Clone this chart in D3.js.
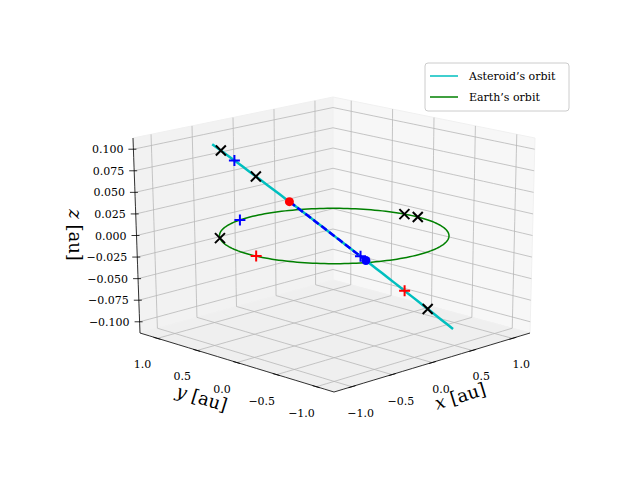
<!DOCTYPE html>
<html>
<head>
<meta charset="utf-8">
<script src="https://cdn.jsdelivr.net/npm/d3@7"></script>
<style>
  body { margin: 0; background: #fff; }
  text { font-family: "DejaVu Serif", "Liberation Serif", serif; }
</style>
</head>
<body>
<div id="chart"></div>
<script>
// axis limits and ticks
const xLim = [-1.22, 1.22], yLim = [-1.22, 1.22], zLim = [-0.113, 0.113];
const xyTicks = [-1.0, -0.5, 0.0, 0.5, 1.0];
const zTicks = [-0.1, -0.075, -0.05, -0.025, 0, 0.025, 0.05, 0.075, 0.1];

// asteroid orbit end points (straight segment through the Sun)
const asteroidStart = [-0.6, 0.88, 0.1];
const asteroidEnd = [0.6, -0.88, -0.1];
// positions along the asteroid track (fraction of start point)
const asteroidCrosses = [0.93, 0.645, -0.785];
const asteroidBluePlus = [0.82, -0.22];
const asteroidRedPlus = [-0.59];
const redDotT = 0.37, blueDotT = -0.265;
// positions on Earth's orbit (angle in degrees)
const earthCrosses = [140, 7, -2];
const earthBluePlus = [100];
const earthRedPlus = [182];

const width = 640, height = 480;
const svg = d3.select("#chart").append("svg")
    .attr("width", width).attr("height", height);

// screen positions of the 8 box corners [x][y][z]
const corners = {
    "000": [334, 392], "100": [530, 333], "010": [140, 333], "110": [333, 280],
    "001": [335, 176], "101": [535, 138], "011": [133, 138], "111": [333, 97]
};
const sx = d3.scaleLinear().domain(xLim).range([0, 1]);
const sy = d3.scaleLinear().domain(yLim).range([0, 1]);
const sz = d3.scaleLinear().domain(zLim).range([0, 1]);

function proj(p) {
    const u = sx(p[0]), v = sy(p[1]), w = sz(p[2]);
    let X = 0, Y = 0;
    for (const i of [0, 1]) for (const j of [0, 1]) for (const k of [0, 1]) {
        const wt = (i ? u : 1 - u) * (j ? v : 1 - v) * (k ? w : 1 - w);
        const c = corners[`${i}${j}${k}`];
        X += wt * c[0]; Y += wt * c[1];
    }
    return [X, Y];
}
const line = d3.line().x(d => d[0]).y(d => d[1]);
function seg(a, b, n = 20) {
    return d3.range(n + 1).map(i => proj(a.map((v, k) => v + (b[k] - v) * i / n)));
}

// panes
const [x0, x1] = xLim, [y0, y1] = yLim, [z0, z1] = zLim;
const panes = [
    { pts: [[x0, y1, z0], [x1, y1, z0], [x1, y1, z1], [x0, y1, z1]], fill: "#f2f2f2" },
    { pts: [[x1, y0, z0], [x1, y1, z0], [x1, y1, z1], [x1, y0, z1]], fill: "#f7f7f7" },
    { pts: [[x0, y0, z0], [x1, y0, z0], [x1, y1, z0], [x0, y1, z0]], fill: "#efefef" }
];
svg.selectAll("path.pane").data(panes).enter().append("path")
    .attr("class", "pane")
    .attr("d", d => line(d.pts.map(proj)) + "Z")
    .attr("fill", d => d.fill).attr("stroke", "#f0f0f0");

// grid lines
const grid = svg.append("g").attr("stroke", "#b8b8b8").attr("stroke-width", 0.8).attr("fill", "none");
xyTicks.forEach(t => {
    grid.append("path").attr("d", line(seg([t, y0, z0], [t, y1, z0])));
    grid.append("path").attr("d", line(seg([t, y1, z0], [t, y1, z1])));
    grid.append("path").attr("d", line(seg([x0, t, z0], [x1, t, z0])));
    grid.append("path").attr("d", line(seg([x1, t, z0], [x1, t, z1])));
});
zTicks.forEach(t => {
    grid.append("path").attr("d", line(seg([x0, y1, t], [x1, y1, t])));
    grid.append("path").attr("d", line(seg([x1, y0, t], [x1, y1, t])));
});

// axis lines, ticks, labels
const ax = svg.append("g").attr("stroke", "#000").attr("stroke-width", 0.8).attr("fill", "none");
ax.append("path").attr("d", line(seg([x0, y0, z0], [x1, y0, z0])));
ax.append("path").attr("d", line(seg([x0, y0, z0], [x0, y1, z0])));
ax.append("path").attr("d", line(seg([x0, y1, z0], [x0, y1, z1])));
const fmt = v => d3.format(".1f")(v).replace("-", "−");
const fmtZ = v => d3.format(".3f")(v).replace("-", "−");
xyTicks.forEach(t => {
    const p = proj([t, y0, z0]);
    ax.append("line").attr("x1", p[0] - 3).attr("y1", p[1] + 1).attr("x2", p[0] + 4).attr("y2", p[1] - 1);
    svg.append("text").attr("x", p[0] + 9).attr("y", p[1] + 30).attr("text-anchor", "middle")
        .attr("font-size", 11).text(fmt(t));
    const q = proj([x0, t, z0]);
    ax.append("line").attr("x1", q[0] - 4).attr("y1", q[1] - 1).attr("x2", q[0] + 3).attr("y2", q[1] + 1);
    svg.append("text").attr("x", q[0] - 15).attr("y", q[1] + 30).attr("text-anchor", "middle")
        .attr("font-size", 11).text(fmt(t));
});
zTicks.forEach(t => {
    const p = proj([x0, y1, t]);
    ax.append("line").attr("x1", p[0] - 5).attr("y1", p[1]).attr("x2", p[0] + 3).attr("y2", p[1]);
    svg.append("text").attr("x", p[0] - 10).attr("y", p[1] + 4).attr("text-anchor", "end")
        .attr("font-size", 11).text(fmtZ(t));
});
svg.append("text").attr("transform", "translate(462,402) rotate(-17)").attr("text-anchor", "middle")
    .attr("font-size", 18).html('<tspan font-style="italic">x</tspan> [au]');
svg.append("text").attr("transform", "translate(200,404) rotate(17)").attr("text-anchor", "middle")
    .attr("font-size", 18).html('<tspan font-style="italic">y</tspan> [au]');
svg.append("text").attr("transform", "translate(69,235) rotate(90)").attr("text-anchor", "middle")
    .attr("font-size", 18).html('<tspan font-style="italic">z</tspan> [au]');

// Earth's orbit
const rad = d => d * Math.PI / 180;
const earthPt = deg => [Math.cos(rad(deg)), Math.sin(rad(deg)), 0];
svg.append("path").attr("d", line(d3.range(0, 361, 2).map(a => proj(earthPt(a)))))
    .attr("fill", "none").attr("stroke", "#008000").attr("stroke-width", 1.5);

// asteroid track
const astPt = t => asteroidStart.map(v => v * t);
svg.append("path").attr("d", line(seg(asteroidStart, asteroidEnd, 40)))
    .attr("fill", "none").attr("stroke", "#00bfbf").attr("stroke-width", 2.5);
svg.append("path").attr("d", line(seg(astPt(redDotT), astPt(blueDotT), 40)))
    .attr("fill", "none").attr("stroke", "#0000ff").attr("stroke-width", 2.5)
    .attr("stroke-dasharray", "7,3");

// markers
function cross(p) {
    const [X, Y] = proj(p), s = 5;
    svg.append("path").attr("d", `M${X - s},${Y - s}L${X + s},${Y + s}M${X - s},${Y + s}L${X + s},${Y - s}`)
        .attr("stroke", "#000").attr("stroke-width", 2);
}
function plus(p, c) {
    const [X, Y] = proj(p), s = 5.5;
    svg.append("path").attr("d", `M${X - s},${Y}L${X + s},${Y}M${X},${Y - s}L${X},${Y + s}`)
        .attr("stroke", c).attr("stroke-width", 2);
}
earthCrosses.forEach(a => cross(earthPt(a)));
earthBluePlus.forEach(a => plus(earthPt(a), "#0000ff"));
earthRedPlus.forEach(a => plus(earthPt(a), "#ff0000"));
asteroidCrosses.forEach(t => cross(astPt(t)));
asteroidBluePlus.forEach(t => plus(astPt(t), "#0000ff"));
asteroidRedPlus.forEach(t => plus(astPt(t), "#ff0000"));
[[redDotT, "#ff0000"], [blueDotT, "#0000ff"]].forEach(([t, c]) => {
    const [X, Y] = proj(astPt(t));
    svg.append("circle").attr("cx", X).attr("cy", Y).attr("r", 4.5).attr("fill", c);
});

// legend
const legend = svg.append("g").attr("transform", "translate(425,63)");
legend.append("rect").attr("width", 144).attr("height", 48).attr("rx", 3)
    .attr("fill", "#fff").attr("fill-opacity", 0.8).attr("stroke", "#cccccc");
[["Asteroid’s orbit", "#00bfbf"], ["Earth’s orbit", "#008000"]].forEach(([name, c], i) => {
    legend.append("line").attr("x1", 5).attr("x2", 33).attr("y1", 13 + i * 21).attr("y2", 13 + i * 21)
        .attr("stroke", c).attr("stroke-width", 1.5);
    legend.append("text").attr("x", 44).attr("y", 17 + i * 21).attr("font-size", 11).text(name);
});
</script>
</body>
</html>
